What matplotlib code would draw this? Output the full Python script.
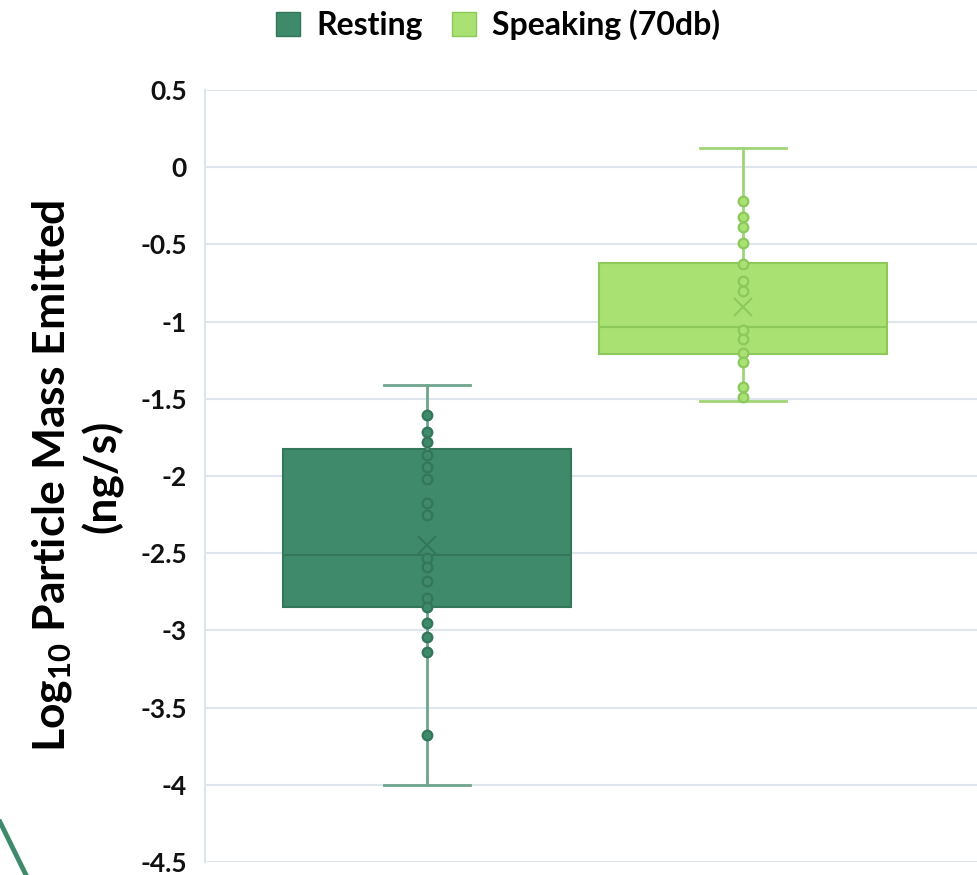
import matplotlib.pyplot as plt
from matplotlib.lines import Line2D
from matplotlib.patches import Patch

plt.rcParams['font.family'] = ['Lato', 'DejaVu Sans']
plt.rcParams['mathtext.default'] = 'regular'

# box summaries per series
series = ["Resting", "Speaking (70db)"]
q1 = [-2.85, -1.21]
median = [-2.51, -1.035]
q3 = [-1.825, -0.62]
whisker_low = [-4.0, -1.515]
whisker_high = [-1.41, 0.125]
means = [-2.45, -0.905]

# individual measurements shown inside the whiskers
resting_points = [-1.605, -1.715, -1.78, -1.865, -1.94, -2.02, -2.175, -2.25,
                  -2.53, -2.59, -2.68, -2.79, -2.85, -2.95, -3.04, -3.14, -3.68]
speaking_points = [-0.219, -0.323, -0.387, -0.49, -0.626, -0.74, -0.805,
                   -1.054, -1.113, -1.203, -1.262, -1.424, -1.488]

fills = ["#3e8a6b", "#a9e172"]
edges = ["#33765a", "#8cc95a"]
whisker_colors = ["#6fa58c", "#9fd575"]
grid_color = "#dfe5ec"

fig = plt.figure(figsize=(9.77, 8.75), dpi=100)
ax = fig.add_axes([205 / 977, 13 / 875, 1 - 205 / 977, 772 / 875])

positions = [1, 2]
stats = []
for i, name in enumerate(series):
    stats.append(dict(label=name, q1=q1[i], med=median[i], q3=q3[i],
                      whislo=whisker_low[i], whishi=whisker_high[i],
                      mean=means[i], fliers=[]))

parts = ax.bxp(stats, positions=positions, widths=0.91, capwidths=0.27,
               patch_artist=True, showmeans=True, showfliers=False, zorder=2)

for i in range(len(series)):
    box = parts['boxes'][i]
    box.set_facecolor(fills[i])
    box.set_edgecolor(edges[i])
    box.set_linewidth(1.5)
    parts['medians'][i].set_color(edges[i])
    parts['medians'][i].set_linewidth(1.5)
    for w in parts['whiskers'][2 * i:2 * i + 2]:
        w.set_color(whisker_colors[i])
        w.set_linewidth(2)
    for c in parts['caps'][2 * i:2 * i + 2]:
        c.set_color(whisker_colors[i])
        c.set_linewidth(2)
    m = parts['means'][i]
    m.set_marker('x')
    m.set_markersize(13)
    m.set_markeredgecolor(edges[i])
    m.set_markeredgewidth(1.4)
    m.set_zorder(4)

for pos, pts, fc, ec in zip(positions, [resting_points, speaking_points], fills, edges):
    ax.scatter([pos] * len(pts), pts, s=48, facecolor=fc, edgecolor=ec,
               linewidth=1.6, zorder=3)

ax.set_ylim(-4.5, 0.5)
ax.set_xlim(1 - 222 / 316, 2 + 234 / 316)
ax.set_yticks([0.5, 0, -0.5, -1, -1.5, -2, -2.5, -3, -3.5, -4, -4.5])
ax.set_yticklabels(["0.5", "0", "-0.5", "-1", "-1.5", "-2", "-2.5", "-3",
                    "-3.5", "-4", "-4.5"])
ax.set_xticks([])
ax.tick_params(axis='y', length=0, pad=13, labelsize=19, labelcolor="#111111")
for lab in ax.get_yticklabels():
    lab.set_fontweight('bold')
ax.grid(axis='y', color=grid_color, linewidth=1.5, zorder=0)
ax.set_axisbelow(True)
for side in ['top', 'right', 'bottom']:
    ax.spines[side].set_visible(False)
ax.spines['left'].set_color(grid_color)
ax.spines['left'].set_linewidth(1.5)

ax.set_ylabel("Log$_{10}$ Particle Mass Emitted\n(ng/s)", fontsize=32,
              fontweight='bold', labelpad=12, linespacing=1.2)

handles = [Patch(facecolor=fills[i], edgecolor=edges[i], label=series[i])
           for i in range(len(series))]
fig.legend(handles=handles, loc='center', bbox_to_anchor=(498 / 977, 1 - 25 / 875),
           ncol=2, frameon=False, handlelength=0.75, handleheight=0.75,
           handletextpad=0.5, columnspacing=0.9,
           prop=dict(size=23, weight='bold'))

# decorative stroke in the lower left corner
fig.add_artist(Line2D([0 / 977, 26 / 977], [1 - 822 / 875, 0], color="#3e8a6b",
                      linewidth=3.5, transform=fig.transFigure))

fig.savefig("out.png", dpi=100)
